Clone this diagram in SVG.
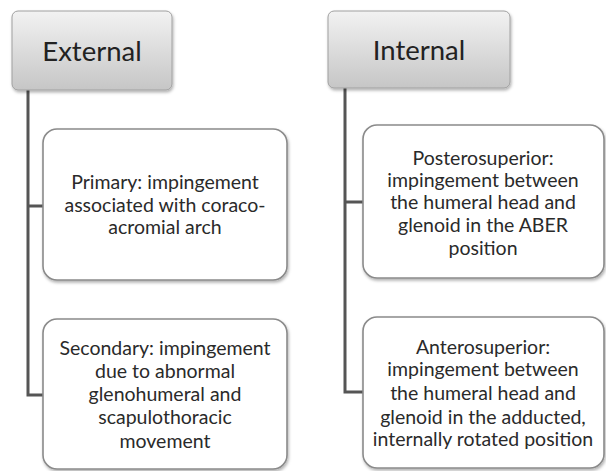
<svg xmlns="http://www.w3.org/2000/svg" width="606" height="471" viewBox="0 0 606 471">
<defs>
<linearGradient id="hg" x1="0" y1="0" x2="0" y2="1">
<stop offset="0" stop-color="#f2f2f2"/>
<stop offset="1" stop-color="#c6c6c6"/>
</linearGradient>
<filter id="sh" x="-10%" y="-10%" width="125%" height="130%">
<feDropShadow dx="1" dy="2" stdDeviation="1.5" flood-color="#000" flood-opacity="0.3"/>
</filter>
</defs>
<style>
.hdr{fill:url(#hg);stroke:#a0a0a0;stroke-width:1;filter:url(#sh)}
.box{fill:#fff;stroke:#8a8a8a;stroke-width:1.6;filter:url(#sh)}
.ht{font-family:Lato,"Open Sans",sans-serif;font-size:27.5px;fill:#222;text-anchor:middle}
.bt{font-family:Lato,"Open Sans",sans-serif;font-size:19.5px;fill:#2a2a2a;text-anchor:middle}
.con{fill:none;stroke:#555;stroke-width:3}
</style>
<rect width="606" height="471" fill="#fff"/>
<g id="connectors">
<path class="con" d="M28 90 V395 H43 M28 206 H43"/>
<path class="con" d="M345 88 V392 H363 M345 202 H363"/>
</g>
<g id="external">
<rect class="hdr" x="12" y="11" width="160" height="79" rx="6"/>
<text class="ht" x="92" y="61">External</text>
</g>
<g id="internal">
<rect class="hdr" x="328" y="11" width="182" height="77" rx="6"/>
<text class="ht" x="419" y="60">Internal</text>
</g>
<g id="primary">
<rect class="box" x="43" y="129" width="244" height="151" rx="14"/>
<text class="bt" x="165" y="189">Primary: impingement</text>
<text class="bt" x="165" y="212">associated with coraco-</text>
<text class="bt" x="165" y="234">acromial arch</text>
</g>
<g id="secondary">
<rect class="box" x="43" y="319" width="244" height="150" rx="14"/>
<text class="bt" x="165" y="355">Secondary: impingement</text>
<text class="bt" x="165" y="378">due to abnormal</text>
<text class="bt" x="165" y="401">glenohumeral and</text>
<text class="bt" x="165" y="424">scapulothoracic</text>
<text class="bt" x="165" y="448">movement</text>
</g>
<g id="posterosuperior">
<rect class="box" x="363" y="125" width="241" height="153" rx="14"/>
<text class="bt" x="483" y="165">Posterosuperior:</text>
<text class="bt" x="483" y="187">impingement between</text>
<text class="bt" x="483" y="209">the humeral head and</text>
<text class="bt" x="483" y="232">glenoid in the ABER</text>
<text class="bt" x="483" y="255">position</text>
</g>
<g id="anterosuperior">
<rect class="box" x="363" y="317" width="241" height="151" rx="14"/>
<text class="bt" x="483" y="354">Anterosuperior:</text>
<text class="bt" x="483" y="376">impingement between</text>
<text class="bt" x="483" y="400">the humeral head and</text>
<text class="bt" x="483" y="424">glenoid in the adducted,</text>
<text class="bt" x="483" y="446">internally rotated position</text>
</g>
</svg>
